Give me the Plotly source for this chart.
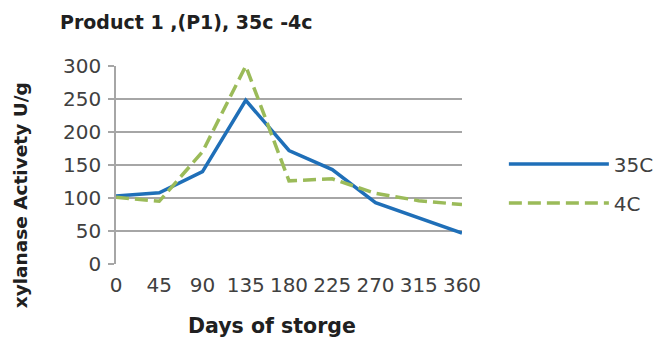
import plotly.graph_objects as go

days = [0, 45, 90, 135, 180, 225, 270, 315, 360]
activity_35c = [103, 108, 140, 248, 172, 143, 93, 70, 47]
activity_4c = [101, 95, 170, 300, 126, 129, 107, 96, 90]
y_ticks = [0, 50, 100, 150, 200, 250, 300]

FONT = "DejaVu Sans"
GRID = "#a6a6a6"
TEXT = "#404040"

fig = go.Figure()
fig.add_trace(go.Scatter(
    x=days, y=activity_35c, name="35C", mode="lines", legendgroup="a",
    line=dict(color="#1f6fb8", width=3.5),
))
fig.add_trace(go.Scatter(
    x=days, y=activity_4c, name="4C", mode="lines", legendgroup="b",
    line=dict(color="#9bbb59", width=3.5, dash="13px,6px"),
))

fig.update_layout(
    width=659, height=338,
    margin=dict(l=116, r=197, t=66, b=74, autoexpand=False),
    paper_bgcolor="white", plot_bgcolor="white",
    font=dict(family=FONT, color=TEXT),
    showlegend=True,
    legend=dict(
        x=1.121, y=0.406, xanchor="left", yanchor="middle",
        font=dict(family=FONT, size=20, color=TEXT),
        itemwidth=100, traceorder="grouped", tracegroupgap=10,
        bgcolor="rgba(0,0,0,0)",
    ),
    xaxis=dict(
        range=[0, 360], tickvals=days, ticktext=[str(d) for d in days],
        showgrid=False, zeroline=False, showline=False,
        ticks="", ticklabelstandoff=7,
        tickfont=dict(family=FONT, size=20, color=TEXT),
    ),
    yaxis=dict(
        range=[0, 300], tickvals=y_ticks,
        showgrid=True, gridcolor=GRID, gridwidth=1.5,
        zeroline=False, showline=True, linecolor=GRID, linewidth=1.5,
        ticks="outside", ticklen=6, tickcolor=GRID, tickwidth=1.5,
        ticklabelstandoff=3,
        tickfont=dict(family=FONT, size=20, color=TEXT),
    ),
    annotations=[
        dict(text="<b>Product 1 ,(P1), 35c -4c</b>", xref="paper", yref="paper",
             x=-0.168, y=1.222, xanchor="left", yanchor="middle", showarrow=False,
             font=dict(family=FONT, size=19, color="#202020")),
        dict(text="<b>xylanase Activety U/g</b>", xref="paper", yref="paper",
             x=-0.277, y=0.348, xanchor="center", yanchor="middle", showarrow=False,
             textangle=-90, font=dict(family=FONT, size=18.5, color="#202020")),
        dict(text="<b>Days of storge</b>", xref="paper", yref="paper",
             x=0.451, y=-0.313, xanchor="center", yanchor="middle", showarrow=False,
             font=dict(family=FONT, size=20.5, color="#202020")),
    ],
)

fig.write_html("out.html")
